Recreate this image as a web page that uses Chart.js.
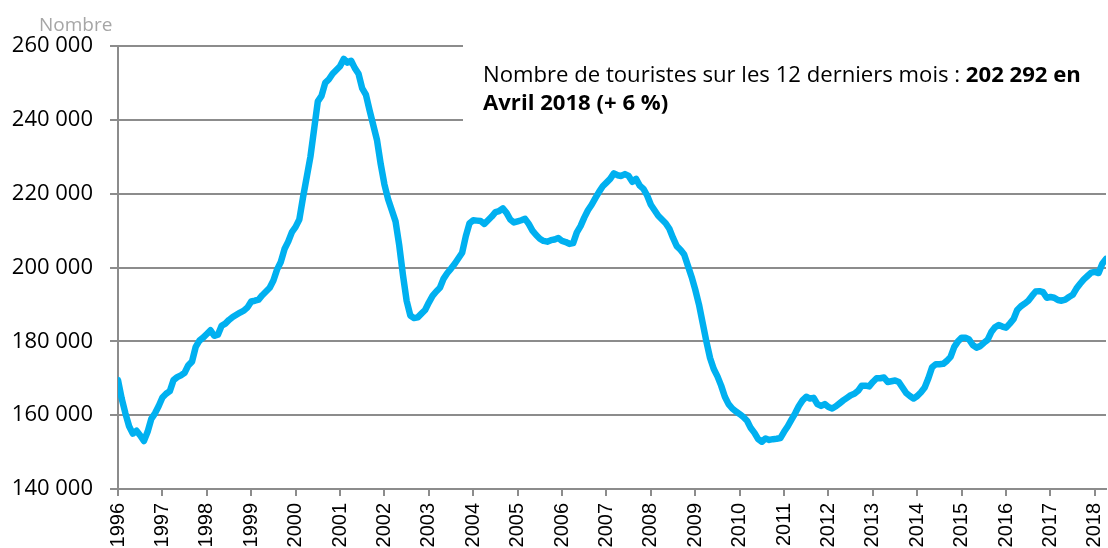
<!DOCTYPE html>
<html>
<head>
<meta charset="utf-8">
<script src="https://cdn.jsdelivr.net/npm/chart.js@4.4.1/dist/chart.umd.min.js"></script>
<style>
  body { margin: 0; background: #ffffff; }
  #chart { display: block; }
</style>
</head>
<body>
<canvas id="chart" width="1108" height="548"></canvas>
<script>
// Nombre de touristes sur 12 mois glissants, mensuel de janvier 1996 à avril 2018
const premiereAnnee = 1996;
const anneesLabels = ['1996', '1997', '1998', '1999', '2000', '2001', '2002', '2003', '2004', '2005', '2006',
    '2007', '2008', '2009', '2010', '2011', '2012', '2013', '2014', '2015', '2016', '2017', '2018'];

const valeurs = [
    // 1996
    169500, 164500, 160500, 157000, 155000, 155800, 154500, 153000, 155500, 159000, 160500, 162500,
    // 1997
    164800, 165800, 166500, 169500, 170300, 170800, 171500, 173500, 174500, 178500, 180200, 181000,
    // 1998
    182000, 183000, 181500, 181800, 184200, 184800, 185800, 186600, 187200, 187800, 188300, 189200,
    // 1999
    190800, 191000, 191300, 192500, 193500, 194500, 196500, 199500, 201500, 205000, 207000, 209600,
    // 2000
    211000, 213000, 219000, 224500, 230000, 237500, 245000, 246500, 250000, 251000, 252500, 253500,
    // 2001
    254500, 256500, 255500, 256000, 254000, 252500, 248500, 246800, 242500, 238500, 234500, 228000,
    // 2002
    222500, 218500, 215500, 212500, 206000, 198000, 191000, 187000, 186300, 186500, 187500, 188500,
    // 2003
    190500, 192300, 193500, 194500, 197000, 198500, 199700, 201000, 202500, 204000, 208500, 212000,
    // 2004
    212800, 212700, 212600, 211800, 212800, 213800, 215000, 215300, 216000, 214800, 213000, 212200,
    // 2005
    212500, 212800, 213200, 211800, 210000, 208800, 207800, 207200, 207000, 207400, 207600, 208000,
    // 2006
    207200, 206900, 206400, 206600, 209500, 211200, 213500, 215500, 217000, 218800, 220500, 222000,
    // 2007
    223000, 224000, 225500, 225000, 224800, 225300, 224800, 223200, 224000, 222200, 221300, 219500,
    // 2008
    217000, 215500, 214000, 213000, 212000, 210500, 208000, 205800, 204800, 203500, 200500, 197500,
    // 2009
    194000, 190000, 185000, 180000, 175500, 172500, 170500, 168000, 165000, 163000, 161800, 161000,
    // 2010
    160300, 159500, 158500, 156500, 155200, 153500, 152800, 153700, 153300, 153500, 153600, 153800,
    // 2011
    155500, 157000, 158800, 160500, 162500, 164000, 165000, 164500, 164700, 163000, 162500, 163000,
    // 2012
    162200, 161800, 162400, 163200, 164000, 164700, 165400, 165800, 166600, 168000, 168000, 167800,
    // 2013
    169000, 170000, 170000, 170200, 169000, 169200, 169400, 169000, 167500, 166000, 165200, 164500,
    // 2014
    165200, 166200, 167500, 170000, 173000, 173800, 173800, 173900, 174700, 175800, 178500, 180000,
    // 2015
    181000, 181000, 180500, 179000, 178300, 178700, 179600, 180400, 182500, 183800, 184400, 184000,
    // 2016
    183700, 184800, 186000, 188500, 189500, 190200, 191000, 192300, 193500, 193600, 193300, 191800,
    // 2017
    192000, 191800, 191200, 191000, 191300, 192000, 192600, 194300, 195600, 196800, 197700, 198600,
    // 2018
    198800, 198500, 201000, 202292
];

const uniteAxe = 'Nombre';
const annotationTexte = 'Nombre de touristes sur les 12 derniers mois : ';
const annotationGras1 = '202 292 en';
const annotationGras2 = 'Avril 2018 (+ 6 %)';

const gridColor = '#8c8c8c';

function formatMilliers(v) {
    return String(v).replace(/\B(?=(\d{3})+(?!\d))/g, ' ');
}

// Texte d'annotation et libellé "Nombre"
const annotationPlugin = {
    id: 'annotation',
    afterDraw(chart) {
        const ctx = chart.ctx;
        ctx.save();
        // fond blanc qui masque la grille derrière le texte
        ctx.fillStyle = '#ffffff';
        ctx.fillRect(463, 40, chart.width - 463, 88);

        let size = 20;
        ctx.font = size + 'px "Open Sans"';
        let w1 = ctx.measureText(annotationTexte).width;
        ctx.font = 'bold ' + size + 'px "Open Sans"';
        let w2 = ctx.measureText(annotationGras1).width;
        size = size * 598 / (w1 + w2);

        ctx.textBaseline = 'alphabetic';
        ctx.textAlign = 'left';
        ctx.fillStyle = '#000000';
        ctx.font = size + 'px "Open Sans"';
        w1 = ctx.measureText(annotationTexte).width;
        ctx.fillText(annotationTexte, 483, 82);
        ctx.font = 'bold ' + size + 'px "Open Sans"';
        ctx.fillText(annotationGras1, 483 + w1, 82);
        ctx.fillText(annotationGras2, 483, 110);

        ctx.fillStyle = '#a6a6a6';
        ctx.font = '19px "Open Sans"';
        ctx.fillText(uniteAxe, 39, 31);
        ctx.restore();
    }
};

const points = valeurs.map((v, i) => ({ x: i, y: v }));

new Chart(document.getElementById('chart'), {
    type: 'line',
    data: {
        datasets: [{
            label: 'Touristes',
            data: points,
            borderColor: '#00b0f0',
            borderWidth: 6.5,
            pointRadius: 0,
            tension: 0,
            borderJoinStyle: 'round',
            borderCapStyle: 'round'
        }]
    },
    options: {
        responsive: false,
        animation: false,
        layout: {
            padding: { top: 46, left: 0, right: 2, bottom: 0 }
        },
        plugins: {
            legend: { display: false },
            tooltip: { enabled: false }
        },
        scales: {
            x: {
                type: 'linear',
                min: 0,
                max: valeurs.length - 1,
                afterBuildTicks: function(scale) {
                    scale.ticks = anneesLabels.map((a, i) => ({ value: i * 12 }));
                },
                afterFit: function(scale) {
                    scale.height = 59;
                    scale.paddingRight = 0;
                    scale.paddingLeft = 0;
                },
                ticks: {
                    autoSkip: false,
                    minRotation: 90,
                    maxRotation: 90,
                    padding: 7,
                    color: '#000000',
                    font: { family: '"Liberation Sans"', size: 20 },
                    callback: function(value) {
                        return anneesLabels[Math.round(value / 12)];
                    }
                },
                grid: {
                    drawOnChartArea: false,
                    drawTicks: true,
                    tickLength: 7,
                    color: gridColor,
                    lineWidth: 2
                },
                border: { display: true, color: gridColor, width: 2 }
            },
            y: {
                min: 140000,
                max: 260000,
                afterFit: function(scale) {
                    scale.width = 118;
                },
                ticks: {
                    stepSize: 20000,
                    padding: 17,
                    color: '#000000',
                    font: { family: '"Open Sans"', size: 22 },
                    callback: function(value) {
                        return formatMilliers(value);
                    }
                },
                grid: {
                    color: gridColor,
                    lineWidth: 2,
                    tickLength: 8
                },
                border: { display: true, color: gridColor, width: 2 }
            }
        }
    },
    plugins: [annotationPlugin]
});
</script>
</body>
</html>
